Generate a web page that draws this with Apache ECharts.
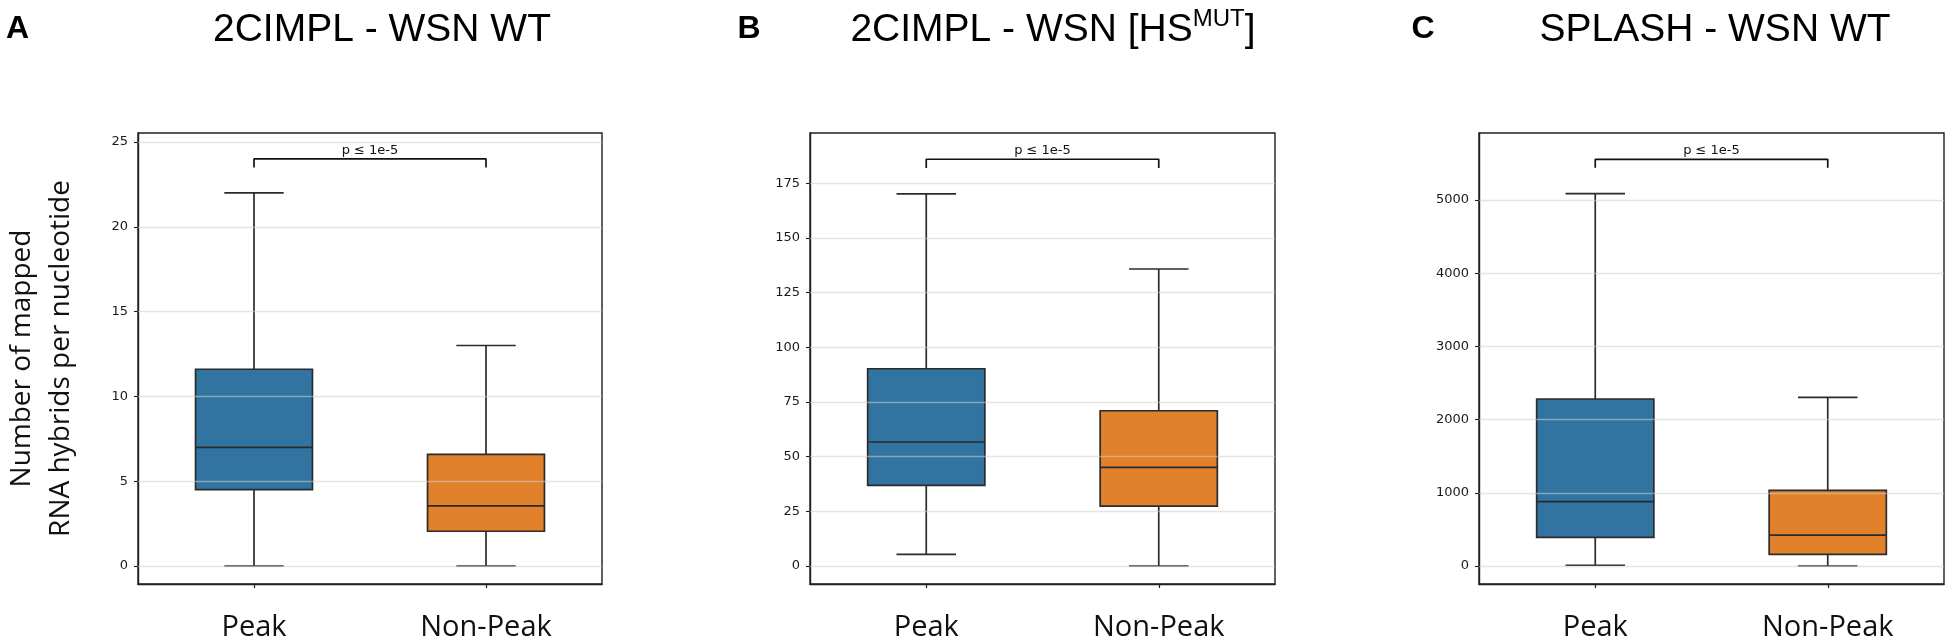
<!DOCTYPE html>
<html>
<head>
<meta charset="utf-8">
<script src="https://cdn.jsdelivr.net/npm/echarts@6/dist/echarts.min.js"></script>
<style>
  html, body { margin: 0; padding: 0; background: #fff; }
  #chart { width: 1950px; height: 644px; }
</style>
</head>
<body>
<div id="chart"></div>
<script>
// ---- Data ----
const categories = ['Peak', 'Non-Peak'];
// [low whisker, Q1, median, Q3, high whisker]
const peakA = [0, 4.5, 7.0, 11.6, 22.0];
const nonPeakA = [0, 2.05, 3.55, 6.58, 13.0];
const peakB = [5.3, 36.9, 56.7, 90.2, 170.2];
const nonPeakB = [0, 27.4, 45.1, 71.0, 135.8];
const peakC = [10, 392, 878, 2281, 5086];
const nonPeakC = [0, 160, 423, 1034, 2304];

const ticksA = [0, 5, 10, 15, 20, 25];
const ticksB = [0, 25, 50, 75, 100, 125, 150, 175];
const ticksC = [0, 1000, 2000, 3000, 4000, 5000];

const rangeA = [-1.06, 25.53];
const rangeB = [-8.23, 198.0];
const rangeC = [-246, 5915];

// significance bracket [drop end, bar level]
const bracketA = [23.5, 24];
const bracketB = [182, 186];
const bracketC = [5441, 5556];
const pLabel = 'p \u2264 1e-5';

const panelTitles = ['2CIMPL - WSN WT', '2CIMPL - WSN [HS', 'SPLASH - WSN WT'];
const panelLetters = ['A', 'B', 'C'];
const yTitle = 'Number of mapped\nRNA hybrids per nucleotide';

// ---- Styling ----
const boxColors = ['#3274A1', '#E1812C'];
const edgeColor = '#2b2b2b';
const gridLineColor = 'rgba(205,205,205,0.55)';
const tickFont = '"DejaVu Sans", sans-serif';
const labelFont = '"Open Sans", "Noto Sans", sans-serif';
const titleFont = '"Liberation Sans", Arial, sans-serif';

const panels = [
  { boxes: [peakA, nonPeakA], ticks: ticksA, range: rangeA, bracket: bracketA, left: 138, width: 464 },
  { boxes: [peakB, nonPeakB], ticks: ticksB, range: rangeB, bracket: bracketB, left: 810, width: 465 },
  { boxes: [peakC, nonPeakC], ticks: ticksC, range: rangeC, bracket: bracketC, left: 1479, width: 465 }
];

function makeRender(part) {
  return function (params, api) {
    const cat = api.value(0);
    const low = api.value(1), q1 = api.value(2), med = api.value(3), q3 = api.value(4), high = api.value(5);
    const band = params.coordSys.width / categories.length;
    const cx = api.coord([cat, med])[0];
    const yl = api.coord([cat, low])[1];
    const y1 = api.coord([cat, q1])[1];
    const ym = api.coord([cat, med])[1];
    const y3 = api.coord([cat, q3])[1];
    const yh = api.coord([cat, high])[1];
    const hw = band * 0.252;
    const cw = band * 0.128;
    if (part === 'fill') {
      return {
        type: 'rect',
        shape: { x: cx - hw, y: y3, width: 2 * hw, height: y1 - y3 },
        style: { fill: boxColors[cat] }
      };
    }
    const ls = { stroke: edgeColor, lineWidth: 1.7, fill: null };
    return {
      type: 'group',
      children: [
        { type: 'line', shape: { x1: cx, y1: yl, x2: cx, y2: y1 }, style: ls },
        { type: 'line', shape: { x1: cx, y1: y3, x2: cx, y2: yh }, style: ls },
        { type: 'line', shape: { x1: cx - cw, y1: yl, x2: cx + cw, y2: yl }, style: ls },
        { type: 'line', shape: { x1: cx - cw, y1: yh, x2: cx + cw, y2: yh }, style: ls },
        { type: 'rect', shape: { x: cx - hw, y: y3, width: 2 * hw, height: y1 - y3 }, style: { stroke: edgeColor, lineWidth: 1.7, fill: null } },
        { type: 'line', shape: { x1: cx - hw, y1: ym, x2: cx + hw, y2: ym }, style: ls }
      ]
    };
  };
}

const grid = [], xAxis = [], yAxis = [], series = [];
panels.forEach(function (p, i) {
  grid.push({
    left: p.left, top: 133, width: p.width, height: 451,
    show: true, borderColor: '#1f1f1f', borderWidth: 1.4, backgroundColor: '#fff'
  });
  xAxis.push({
    type: 'category', gridIndex: i, data: categories, boundaryGap: true,
    axisLine: { show: true, onZero: false, lineStyle: { color: '#1f1f1f', width: 1.4 } },
    axisTick: { show: true, alignWithLabel: true, length: 4, lineStyle: { color: '#1f1f1f', width: 1.2 } },
    axisLabel: { fontSize: 29, fontFamily: labelFont, color: '#111', margin: 29 },
    splitLine: { show: false }
  });
  const ya = {
    type: 'value', gridIndex: i, min: p.range[0], max: p.range[1],
    axisLine: { show: true, lineStyle: { color: '#1f1f1f', width: 1.4 } },
    axisTick: { show: true, customValues: p.ticks, length: 4, lineStyle: { color: '#1f1f1f', width: 1.1 } },
    axisLabel: {
      customValues: p.ticks, fontSize: 13, fontFamily: tickFont, color: '#1a1a1a', margin: 10,
      formatter: function (v) { return String(v); }
    },
    splitLine: { show: false }
  };
  if (i === 0) {
    ya.name = yTitle;
    ya.nameLocation = 'middle';
    ya.nameRotate = 90;
    ya.nameGap = 57;
    ya.nameTextStyle = { fontSize: 28, fontFamily: labelFont, color: '#111', lineHeight: 39 };
  }
  yAxis.push(ya);

  const data = p.boxes.map(function (b, k) { return [k].concat(b); });
  series.push({
    type: 'custom', xAxisIndex: i, yAxisIndex: i, z: 1,
    renderItem: makeRender('fill'), data: data,
    encode: { x: 0, y: [1, 2, 3, 4, 5] }, silent: true
  });
  series.push({
    type: 'line', xAxisIndex: i, yAxisIndex: i, z: 2, data: [], silent: true,
    markLine: {
      silent: true, symbol: 'none', animation: false,
      label: { show: false },
      lineStyle: { color: gridLineColor, width: 1.3, type: 'solid' },
      data: p.ticks.map(function (v) { return { yAxis: v }; })
    }
  });
  series.push({
    type: 'custom', xAxisIndex: i, yAxisIndex: i, z: 3,
    renderItem: makeRender('line'), data: data,
    encode: { x: 0, y: [1, 2, 3, 4, 5] }, silent: true
  });
  series.push({
    type: 'line', xAxisIndex: i, yAxisIndex: i, z: 4, silent: true,
    symbol: 'none', animation: false,
    data: [[0, p.bracket[0]], [0, p.bracket[1]], [1, p.bracket[1]], [1, p.bracket[0]]],
    lineStyle: { color: '#111', width: 1.7 },
    markLine: {
      silent: true, symbol: 'none', animation: false,
      lineStyle: { color: 'rgba(0,0,0,0)', width: 0 },
      label: { show: true, position: 'middle', formatter: pLabel, fontSize: 13, fontFamily: tickFont, color: '#111', distance: 2 },
      data: [[{ coord: [0, p.bracket[1]] }, { coord: [1, p.bracket[1]] }]]
    }
  });
});

const titleCenters = [382, 1053, 1715];
const letterCenters = [17.5, 749, 1423];
const graphic = [];
panelLetters.forEach(function (L, i) {
  graphic.push({
    type: 'text', x: letterCenters[i], y: 29,
    style: { text: L, fontSize: 32, fontWeight: 'bold', fontFamily: titleFont, fill: '#000', textAlign: 'center', textVerticalAlign: 'middle' }
  });
});
graphic.push({
  type: 'text', x: titleCenters[0], y: 30,
  style: { text: panelTitles[0], fontSize: 39, fontFamily: titleFont, fill: '#000', textAlign: 'center', textVerticalAlign: 'middle' }
});
graphic.push({
  type: 'text', x: titleCenters[1], y: 30,
  style: {
    text: '{m|' + panelTitles[1] + '}{s|MUT}{m|]}',
    textAlign: 'center', textVerticalAlign: 'middle',
    rich: {
      m: { fontSize: 39, fontFamily: titleFont, fill: '#000', lineHeight: 46 },
      s: { fontSize: 24, fontFamily: titleFont, fill: '#000', lineHeight: 36, verticalAlign: 'top' }
    }
  }
});
graphic.push({
  type: 'text', x: titleCenters[2], y: 30,
  style: { text: panelTitles[2], fontSize: 39, fontFamily: titleFont, fill: '#000', textAlign: 'center', textVerticalAlign: 'middle' }
});

const chart = echarts.init(document.getElementById('chart'), null, { renderer: 'canvas' });
chart.setOption({
  animation: false,
  backgroundColor: '#fff',
  grid: grid, xAxis: xAxis, yAxis: yAxis, series: series, graphic: graphic
});
</script>
</body>
</html>
